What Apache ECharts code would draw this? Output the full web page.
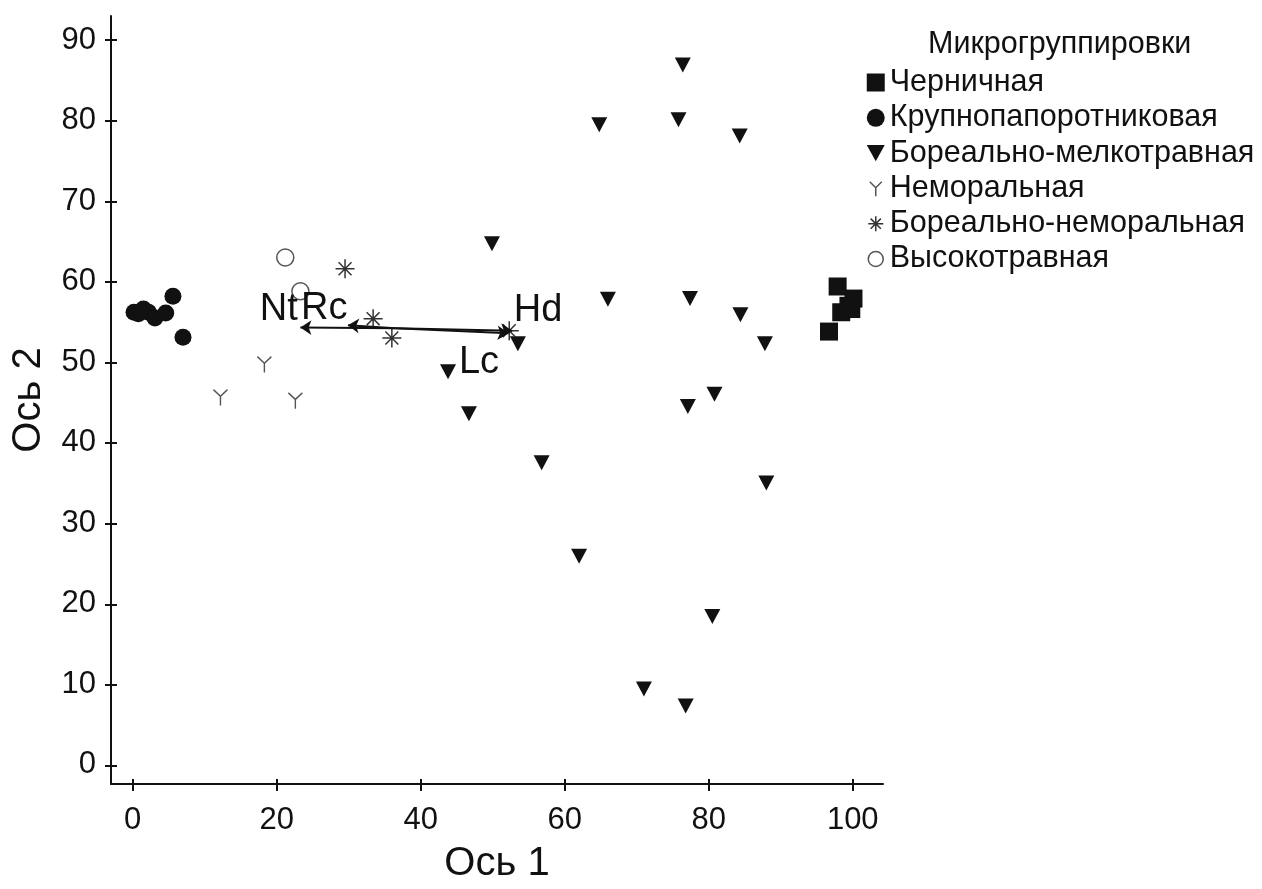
<!DOCTYPE html>
<html>
<head>
<meta charset="utf-8">
<script src="https://cdn.jsdelivr.net/npm/echarts@6/dist/echarts.min.js"></script>
<style>
  html, body { margin: 0; padding: 0; background: #fff; }
  #chart { width: 1262px; height: 889px; }
</style>
</head>
<body>
<div id="chart"></div>
<script>
// points: [ось 1, ось 2]
var chernichnaya = [[97.9, 59.4], [100.1, 57.9], [99.4, 57.0], [98.4, 56.2], [99.8, 56.6], [96.7, 53.8]]
var krupnopaporotnikovaya = [[0.2, 56.2], [0.8, 56.0], [1.5, 56.6], [2.2, 56.2], [3.1, 55.5], [4.6, 56.1], [5.6, 58.2], [7.0, 53.1]]
var borealnoMelkotravnaya = [
  [76.4, 86.9], [64.8, 79.5], [75.8, 80.1], [84.3, 78.1], [49.9, 64.7],
  [66.0, 57.8], [77.4, 57.9], [84.4, 55.9], [53.5, 52.3], [87.8, 52.3],
  [43.8, 48.8], [80.8, 46.0], [77.1, 44.5], [46.7, 43.6], [56.8, 37.5],
  [88.0, 35.0], [62.0, 25.9], [80.5, 18.4], [71.0, 9.4], [76.8, 7.3]
]
var nemoralnaya = [[12.2, 45.6], [18.3, 49.7], [22.6, 45.2]]
var borealnoNemoralnaya = [[29.5, 61.6], [33.4, 55.4], [36.0, 53.0], [52.3, 53.9]]
var vysokotravnaya = [[21.2, 63.0], [23.3, 58.8]]

// joint plot vectors
var vectorOrigin = [36.5, 54.2]
var vectorNames = ['Nt', 'Rc', 'Hd', 'Lc']
var vectorTips = [[23.3, 54.3], [29.9, 54.6], [52.7, 53.9], [52.2, 53.6]]
var vectorLabelPos = [[20.3, 56.6], [26.6, 56.7], [56.3, 56.4], [48.1, 49.9]]

var xTicks = [0, 20, 40, 60, 80, 100]
var yTicks = [0, 10, 20, 30, 40, 50, 60, 70, 80, 90]

var groupNames = ['Черничная', 'Крупнопапоротниковая', 'Бореально-мелкотравная',
  'Неморальная', 'Бореально-неморальная', 'Высокотравная']

var FONT = 'Liberation Sans, Arial, sans-serif'
var INK = '#111'

var triPath = 'path://M0,0 L10,0 L5,9 Z'
var yPath = 'path://M0,0 L5,5 L10,0 M5,5 L5,12'
var starPath = 'path://M0,5 L10,5 M5,0 L5,10 M1.6,1.6 L8.4,8.4 M8.4,1.6 L1.6,8.4'
// legend versions, padded with empty moves so they draw a bit smaller
var yLegend = 'path://M-1,-2 M11,13 M0,0 L5,5 L10,0 M5,5 L5,12'
var starLegend = 'path://M-1,-1 M11,11 M0,5 L10,5 M5,0 L5,10 M1.6,1.6 L8.4,8.4 M8.4,1.6 L1.6,8.4'
var ringLegend = 'path://M-1,-1 M11,11 M0,5 A5,5 0 1 1 10,5 A5,5 0 1 1 0,5 Z'

var GRID = { left: 111, right: 379, top: 16, bottom: 104 }
var X_MIN = -3, X_MAX = 104.2, Y_MIN = -2.4, Y_MAX = 93

// kind: 'main' = line + labels, 'out' = outer ticks, 'in' = inner ticks
function makeAxis(kind, ticks, min, max, gridIndex, pos, extra) {
  var ax = {
    type: 'value',
    gridIndex: gridIndex,
    position: pos,
    min: min,
    max: max,
    splitLine: { show: false },
    axisLine: { show: kind === 'main', onZero: false, lineStyle: { color: INK, width: 2 } },
    axisTick: {
      show: kind !== 'main',
      inside: kind === 'in',
      customValues: ticks,
      length: 6,
      lineStyle: { color: INK, width: 2 }
    },
    axisLabel: kind === 'main'
      ? { customValues: ticks, color: INK, fontSize: 31, fontFamily: FONT, margin: pos === 'bottom' ? 21 : 15 }
      : { show: false }
  }
  return Object.assign(ax, extra || {})
}

var chart = echarts.init(document.getElementById('chart'))

var vectorLines = vectorTips.map(function (tip) {
  return { coords: [vectorOrigin, tip] }
})
var vectorLabels = vectorLabelPos.map(function (p, i) {
  return { value: p, name: vectorNames[i] }
})

var option = {
  animation: false,
  backgroundColor: '#fff',
  title: {
    text: 'Микрогруппировки',
    left: 928,
    top: 29,
    padding: 0,
    textStyle: { fontSize: 30.5, fontWeight: 'normal', color: INK, fontFamily: FONT }
  },
  legend: {
    orient: 'vertical',
    left: 866,
    top: 67,
    padding: 0,
    itemGap: 4.3,
    itemWidth: 18,
    itemHeight: 18,
    selectedMode: false,
    textStyle: { fontSize: 30.5, color: INK, fontFamily: FONT },
    data: [
      { name: groupNames[0], icon: 'rect' },
      { name: groupNames[1], icon: 'circle' },
      { name: groupNames[2], icon: triPath },
      { name: groupNames[3], icon: yLegend, itemStyle: { borderWidth: 1.5 } },
      { name: groupNames[4], icon: starLegend, itemStyle: { borderWidth: 1.5 } },
      { name: groupNames[5], icon: ringLegend, itemStyle: { borderWidth: 1.5 } }
    ]
  },
  grid: [GRID, GRID, GRID],
  xAxis: [
    makeAxis('main', xTicks, X_MIN, X_MAX, 0, 'bottom', {
      name: 'Ось 1',
      nameLocation: 'middle',
      nameGap: 60,
      nameTextStyle: { fontSize: 40, color: INK, fontFamily: FONT }
    }),
    makeAxis('out', xTicks, X_MIN, X_MAX, 1, 'bottom'),
    makeAxis('in', xTicks, X_MIN, X_MAX, 2, 'bottom')
  ],
  yAxis: [
    makeAxis('main', yTicks, Y_MIN, Y_MAX, 0, 'left', {
      name: 'Ось 2',
      nameLocation: 'middle',
      nameGap: 62,
      nameTextStyle: { fontSize: 40, color: INK, fontFamily: FONT }
    }),
    makeAxis('out', yTicks, Y_MIN, Y_MAX, 1, 'left'),
    makeAxis('in', yTicks, Y_MIN, Y_MAX, 2, 'left')
  ],
  series: [
    {
      name: groupNames[0], type: 'scatter', symbol: 'rect', symbolSize: 18,
      itemStyle: { color: INK, opacity: 1 }, data: chernichnaya
    },
    {
      name: groupNames[1], type: 'scatter', symbol: 'circle', symbolSize: 17,
      itemStyle: { color: INK, opacity: 1 }, data: krupnopaporotnikovaya
    },
    {
      name: groupNames[2], type: 'scatter', symbol: triPath, symbolSize: [16, 15],
      itemStyle: { color: INK, opacity: 1 }, data: borealnoMelkotravnaya
    },
    {
      name: groupNames[3], type: 'scatter', symbol: yPath, symbolSize: [14, 16],
      itemStyle: { color: 'rgba(0,0,0,0)', borderColor: '#555', borderWidth: 1.5, opacity: 1 },
      data: nemoralnaya
    },
    {
      name: groupNames[4], type: 'scatter', symbol: starPath, symbolSize: 19,
      itemStyle: { color: 'rgba(0,0,0,0)', borderColor: '#333', borderWidth: 1.5, opacity: 1 },
      data: borealnoNemoralnaya
    },
    {
      name: groupNames[5], type: 'scatter', symbol: 'circle', symbolSize: 17,
      itemStyle: { color: 'rgba(0,0,0,0)', borderColor: '#555', borderWidth: 1.5, opacity: 1 },
      data: vysokotravnaya
    },
    {
      type: 'lines',
      coordinateSystem: 'cartesian2d',
      symbol: ['none', 'arrow'],
      symbolSize: [0, 11],
      lineStyle: { color: INK, width: 2, opacity: 1 },
      data: vectorLines,
      z: 5
    },
    {
      type: 'scatter',
      symbol: 'circle',
      symbolSize: 1,
      itemStyle: { color: 'rgba(0,0,0,0)', opacity: 1 },
      data: vectorLabels,
      label: {
        show: true,
        position: 'inside',
        formatter: '{b}',
        color: INK,
        opacity: 1,
        textBorderWidth: 0,
        fontSize: 38,
        fontFamily: FONT
      },
      z: 6
    }
  ]
}

chart.setOption(option)
</script>
</body>
</html>
